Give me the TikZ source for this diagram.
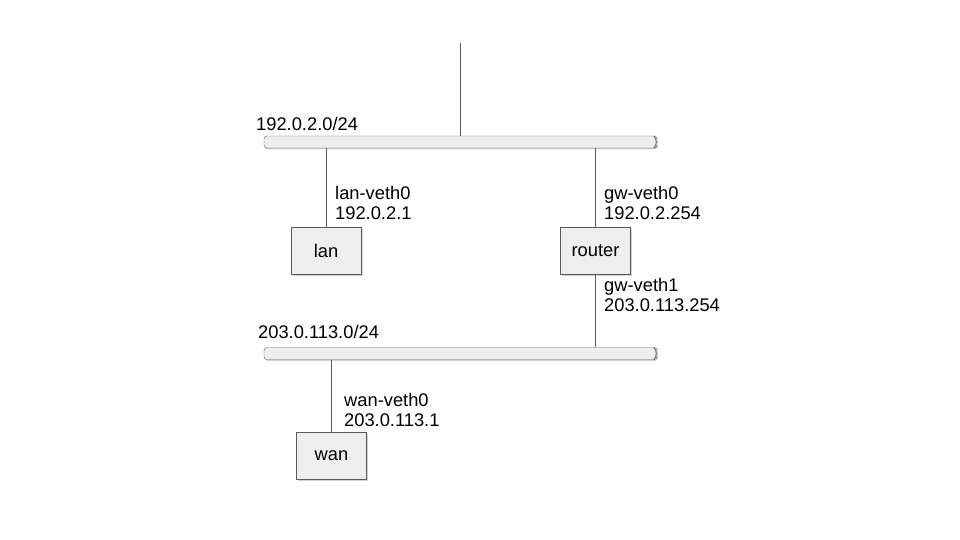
\documentclass[tikz,border=0pt]{standalone}
\usepackage{fontspec}
\setmainfont{Liberation Sans}
\usepackage{tikz}
\usetikzlibrary{shadows}
\definecolor{boxgray}{HTML}{EEEEEE}
\definecolor{linegray}{HTML}{595959}
\tikzset{
	host/.style={draw=linegray, fill=boxgray, minimum width=70pt, minimum height=47pt, inner sep=0pt,
		font=\fontsize{18.3}{22}\selectfont,
		drop shadow={shadow xshift=1.5pt, shadow yshift=-1.5pt, opacity=0.35}},
	bus/.style={rectangle, rounded corners=3pt, draw=linegray, fill=boxgray,
		minimum width=393pt, minimum height=12pt, inner sep=0pt,
		drop shadow={shadow xshift=1pt, shadow yshift=-1.5pt, opacity=0.35}},
	lbl/.style={anchor=west, inner sep=0pt, align=left, font=\fontsize{18.3}{20.5}\selectfont},
	wire/.style={draw=linegray, line width=0.8pt}
}
\begin{document}
\begin{tikzpicture}[x=1pt,y=-1pt]
				\useasboundingbox (0,0) rectangle (960,540);
				
				% networks
				\node [bus] (net1) at (460.5,142) {};
				\node [bus] (net2) at (460.5,353.5) {};
				\draw [wire] ([xshift=-3.5pt]net1.north east) to [bend left=45] ([xshift=-3.5pt]net1.south east);
				\draw [wire] ([xshift=-3.5pt]net2.north east) to [bend left=45] ([xshift=-3.5pt]net2.south east);
				\node [lbl] (net1lbl) at (256,124) {192.0.2.0/24};
				\node [lbl] (net2lbl) at (258,332) {203.0.113.0/24};
				
				% hosts
				\node [host] (lan) at (326,250.5) {lan};
				\node [host] (router) at (595.5,250.5) {router};
				\node [host] (wan) at (331.5,456) {wan};
				
				\coordinate (uplink) at (460.5,43);
				\draw [wire] (uplink) -- (net1.north -| uplink);
				\draw [wire] (lan.north) -- (lan.north |- net1.south);
				\draw [wire] (router.north) -- (router.north |- net1.south);
				\draw [wire] (router.south) -- (router.south |- net2.north);
				\draw [wire] (wan.north) -- (wan.north |- net2.south);
				
				% interfaces
				\node [lbl] (lanif) at (335,203) {lan-veth0\\192.0.2.1};
				\node [lbl] (gwif0) at (604,203) {gw-veth0\\192.0.2.254};
				\node [lbl] (gwif1) at (604,295) {gw-veth1\\203.0.113.254};
				\node [lbl] (wanif) at (344,410) {wan-veth0\\203.0.113.1};
\end{tikzpicture}
\end{document}
